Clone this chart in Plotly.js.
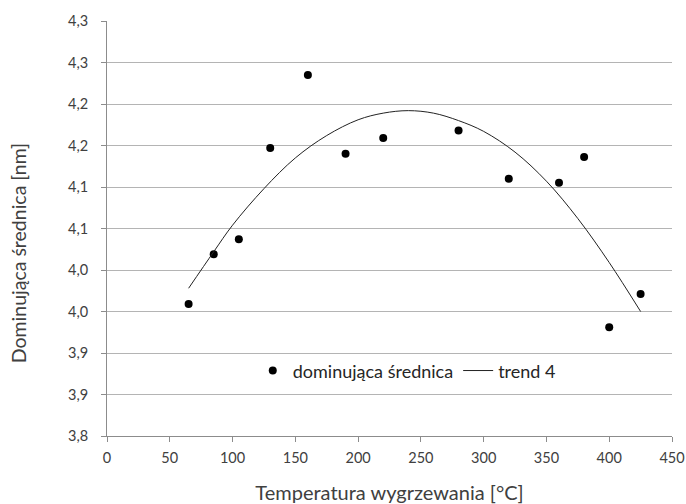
<!DOCTYPE html>
<html>
<head>
<meta charset="utf-8">
<script src="https://cdn.plot.ly/plotly-3.0.1.min.js"></script>
<style>html,body{margin:0;padding:0;background:#fff;}#chart{width:686px;height:504px;}</style>
</head>
<body>
<div id="chart"></div>
<script>
// Measured data
const temperatures = [65, 85, 105, 130, 160, 190, 220, 280, 320, 360, 380, 400, 425];
const diameters = [3.959, 4.019, 4.037, 4.147, 4.235, 4.140, 4.159, 4.168, 4.110, 4.105, 4.136, 3.931, 3.971];

// Trend curve
const trendX = [65, 85, 100, 125, 150, 175, 200, 220, 240, 260, 280, 300, 325, 350, 375, 400, 425];
const trendY = [3.978, 4.022, 4.054, 4.098, 4.135, 4.162, 4.181, 4.189, 4.192, 4.189, 4.180, 4.167, 4.142, 4.107, 4.062, 4.009, 3.950];

// Axis ticks
const yTickVals = [3.80, 3.85, 3.90, 3.95, 4.00, 4.05, 4.10, 4.15, 4.20, 4.25, 4.30];
const yTickText = ["3,8", "3,9", "3,9", "4,0", "4,0", "4,1", "4,1", "4,2", "4,2", "4,3", "4,3"];
const xTickVals = [0, 50, 100, 150, 200, 250, 300, 350, 400, 450];

const seriesNames = ["dominująca średnica", "trend 4"];
const xTitle = "Temperatura wygrzewania [°C]";
const yTitle = "Dominująca średnica [nm]";

const font = "Lato, 'Open Sans', sans-serif";

const traces = [
  {
    x: temperatures, y: diameters, type: "scatter", mode: "markers",
    name: seriesNames[0],
    marker: {color: "#000000", size: 8}
  },
  {
    x: trendX, y: trendY, type: "scatter", mode: "lines",
    name: seriesNames[1],
    line: {color: "#222222", width: 1, shape: "spline", smoothing: 1}
  }
];

const layout = {
  width: 686, height: 504,
  margin: {l: 107, r: 14, t: 21, b: 68},
  paper_bgcolor: "#ffffff", plot_bgcolor: "#ffffff",
  font: {family: font, size: 14.5, color: "#404040"},
  showlegend: true,
  legend: {
    orientation: "h", x: 0.258, y: 0.157, xanchor: "left", yanchor: "middle",
    bgcolor: "rgba(255,255,255,0)", font: {family: font, size: 18, color: "#262626"},
    itemwidth: 30
  },
  xaxis: {
    range: [0, 450], tickvals: xTickVals, ticktext: xTickVals.map(String),
    showgrid: false, zeroline: false,
    showline: true, linecolor: "#8c8c8c", linewidth: 1,
    ticks: "outside", ticklen: 5, tickcolor: "#8c8c8c",
    ticklabelstandoff: 4,
    tickfont: {family: font, size: 14.5, color: "#404040"},
    title: {text: xTitle, font: {family: font, size: 20, color: "#404040"}, standoff: 20}
  },
  yaxis: {
    range: [3.8, 4.3], tickvals: yTickVals, ticktext: yTickText,
    showgrid: true, gridcolor: "#b4b4b4", gridwidth: 1, zeroline: false,
    showline: true, linecolor: "#8c8c8c", linewidth: 1,
    ticks: "outside", ticklen: 5, tickcolor: "#8c8c8c",
    ticklabelstandoff: 10,
    tickfont: {family: font, size: 14.5, color: "#404040"}
  },
  annotations: [{
    text: yTitle, textangle: -90, showarrow: false,
    xref: "paper", yref: "paper", x: -0.1575, y: 0.4406,
    xanchor: "center", yanchor: "middle",
    font: {family: font, size: 19.5, color: "#404040"}
  }]
};

Plotly.newPlot("chart", traces, layout, {displayModeBar: false, staticPlot: true});
</script>
</body>
</html>
